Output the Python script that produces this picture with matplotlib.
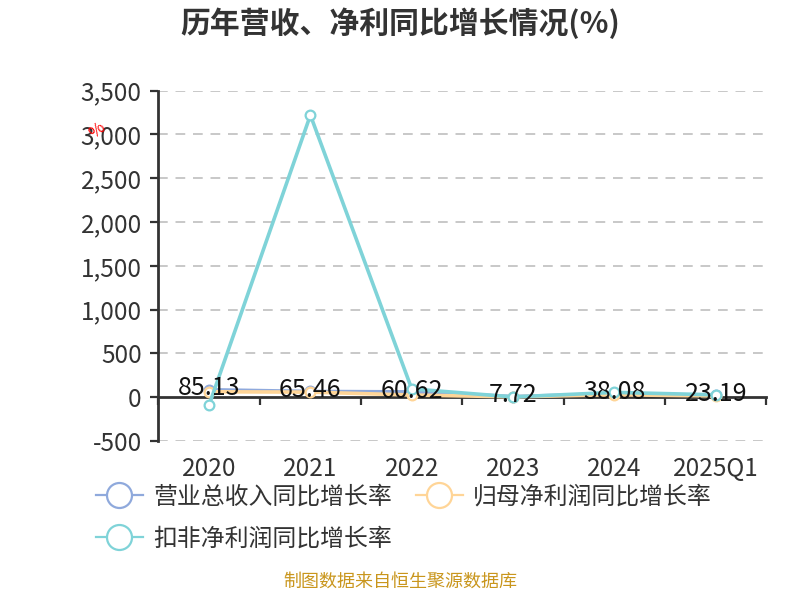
import matplotlib
matplotlib.use("Agg")
import matplotlib.pyplot as plt
from matplotlib.lines import Line2D

plt.rcParams["font.family"] = ["Noto Sans CJK SC", "DejaVu Sans"]

# ===== Data =====
years = ["2020", "2021", "2022", "2023", "2024", "2025Q1"]
revenue_yoy = [85.13, 65.46, 60.62, 7.72, 38.08, 23.19]
parent_np_yoy = [62, 58, 25, 4, 28, 14]
deducted_np_yoy = [-90, 3220, 95, 3, 55, 27]
series_names = ["营业总收入同比增长率", "归母净利润同比增长率", "扣非净利润同比增长率"]
yticks = [-500, 0, 500, 1000, 1500, 2000, 2500, 3000, 3500]

colors = ["#8fa9dc", "#ffd597", "#7fd3d8"]
axis_c = "#333333"

fig = plt.figure(figsize=(8, 6), dpi=100)
ax = fig.add_axes([0.198, 0.265, 0.760, 0.584])

x = list(range(len(years)))
for vals, c in zip([revenue_yoy, parent_np_yoy, deducted_np_yoy], colors):
    ax.plot(x, vals, color=c, lw=2.6, marker="o", ms=7, mfc="white",
            mec=c, mew=1.6, zorder=3)

for xi, v in zip(x, revenue_yoy):
    ax.annotate(f"{v:.2f}", (xi, v), xytext=(0, 1), textcoords="offset points",
                ha="center", va="center", fontsize=18, color="#111111", zorder=4)

ax.set_xlim(-0.5, len(years) - 0.5)
ax.set_ylim(-500, 3500)
ax.set_yticks(yticks)
ax.set_yticklabels([f"{t:,}" for t in yticks])
ax.tick_params(axis="y", length=6, width=1.6, color=axis_c, labelcolor=axis_c,
               labelsize=17.5, pad=6)

for t in yticks:
    if t != 0:
        ax.axhline(t, color="#c8c8c8", lw=1.4, ls=(0, (5, 4)), zorder=1)

for s in ["top", "right"]:
    ax.spines[s].set_visible(False)
ax.spines["left"].set_color(axis_c)
ax.spines["left"].set_linewidth(2)
ax.spines["bottom"].set_position(("data", 0))
ax.spines["bottom"].set_color(axis_c)
ax.spines["bottom"].set_linewidth(2)

ax.set_xticks(x)
ax.set_xticklabels(years)
ax.set_xticks([i - 0.5 for i in range(len(years) + 1)], minor=True)
ax.tick_params(axis="x", which="major", length=0, pad=42, labelsize=17.5,
               labelcolor=axis_c)
ax.tick_params(axis="x", which="minor", length=6, width=1.6, color=axis_c)

fig.text(0.5, 0.962, "历年营收、净利同比增长情况(%)", ha="center", va="center",
         fontsize=21.5, fontweight="bold", color="#333333")

# small red mark near the y axis
fig.text(0.122, 0.782, "%", color="red", fontsize=12, rotation=40,
         ha="center", va="center")

# legend fills column-wise, so order handles to get row layout
order = [0, 2, 1]
handles = [Line2D([0], [0], color=colors[i], lw=1.6, marker="o", ms=18,
                  mfc="white", mec=colors[i], mew=1.6) for i in order]
leg = fig.legend(handles, [series_names[i] for i in order], loc="upper left",
                 ncol=2, bbox_to_anchor=(0.108, 0.207), frameon=False,
                 fontsize=17.2, handlelength=1.95, handletextpad=0.45,
                 columnspacing=1.0, labelspacing=0.8, borderaxespad=0)
for t in leg.get_texts():
    t.set_color("#333333")

fig.text(0.5, 0.016, "制图数据来自恒生聚源数据库", ha="center", va="bottom",
         fontsize=13, color="#c9961d")

fig.savefig("out.png", dpi=100)
